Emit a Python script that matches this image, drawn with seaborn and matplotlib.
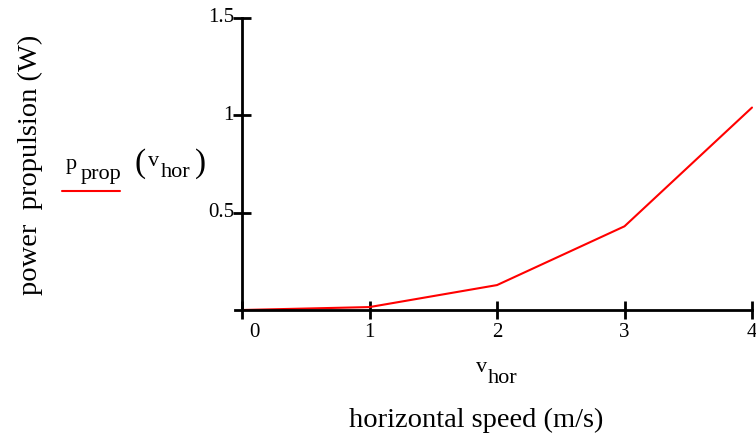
import matplotlib
matplotlib.use("Agg")
import matplotlib.pyplot as plt
import seaborn as sns
import pandas as pd

v_hor = [0, 1, 2, 3, 4]
p_prop = [0.0, 0.015, 0.128, 0.43, 1.04]
x_ticks = [0, 1, 2, 3, 4]
x_tick_labels = ["0", "1", "2", "3", "4"]
y_ticks = [0.5, 1.0, 1.5]
y_tick_labels = ["0.5", "1", "1.5"]

sns.set_style("white")
plt.rcParams["font.family"] = ["Liberation Serif", "DejaVu Serif"]
plt.rcParams["text.color"] = "black"

W, H = 756, 436
fig = plt.figure(figsize=(W / 100, H / 100), dpi=100)

def fx(px):
    return px / W

def fy(py):
    return 1 - py / H

left_px, right_px, top_px, bot_px = 235, 752, 18, 310
ax = fig.add_axes([fx(left_px), fy(bot_px), fx(right_px) - fx(left_px), fy(top_px) - fy(bot_px)])

df = pd.DataFrame({"v_hor": v_hor, "p_prop": p_prop})
sns.lineplot(data=df, x="v_hor", y="p_prop", ax=ax, color="#ff0000", linewidth=1.5, clip_on=False)

ax.set_xlim(-0.055, 4.0)
ax.set_ylim(0, 1.5)
for s in ["top", "right"]:
    ax.spines[s].set_visible(False)
ax.spines["left"].set_position(("data", 0))
for s in ["left", "bottom"]:
    ax.spines[s].set_linewidth(2)
    ax.spines[s].set_color("black")

ax.set_xticks(x_ticks)
ax.set_xticklabels([])
ax.set_yticks(y_ticks)
ax.set_yticklabels([])
ax.tick_params(axis="both", which="major", direction="inout", length=13, width=2,
               color="black", bottom=True, left=True)
ax.set_xlabel("")
ax.set_ylabel("")

# tick labels as text (Mathcad-style offsets)
tr = ax.get_xaxis_transform()
for xv, lab in zip(x_ticks, x_tick_labels):
    xpos = xv + 0.1 if xv == 0 else xv
    ax.text(xpos, -0.045, lab, transform=tr, ha="center", va="top", fontsize=15, clip_on=False)
for yv, lab in zip(y_ticks, y_tick_labels):
    fig.text(fx(234), fy(bot_px - (yv / 1.5) * (bot_px - top_px)), lab,
             ha="right", va="center", fontsize=15)

# axis titles
fig.text(fx(30), fy(165), "power  propulsion (W)", rotation=90, ha="center", va="center", fontsize=20.5)
fig.text(fx(476), fy(420), "horizontal speed (m/s)", ha="center", va="center", fontsize=20.5)
fig.text(fx(476), fy(367), "v", ha="left", va="center", fontsize=16)
fig.text(fx(488), fy(378), "hor", ha="left", va="center", fontsize=16)

# legend
fig.text(fx(66), fy(165), "p", ha="left", va="center", fontsize=16)
fig.text(fx(81), fy(174), "prop", ha="left", va="center", fontsize=16)
fig.text(fx(135), fy(164), "(", ha="left", va="center", fontsize=24)
fig.text(fx(148), fy(161), "v", ha="left", va="center", fontsize=16)
fig.text(fx(161), fy(172), "hor", ha="left", va="center", fontsize=16)
fig.text(fx(195), fy(164), ")", ha="left", va="center", fontsize=24)
fig.add_artist(plt.Line2D([fx(62), fx(120)], [fy(191), fy(191)], color="#ff0000",
                          linewidth=1.5, transform=fig.transFigure))

fig.savefig("out.png", dpi=100)
